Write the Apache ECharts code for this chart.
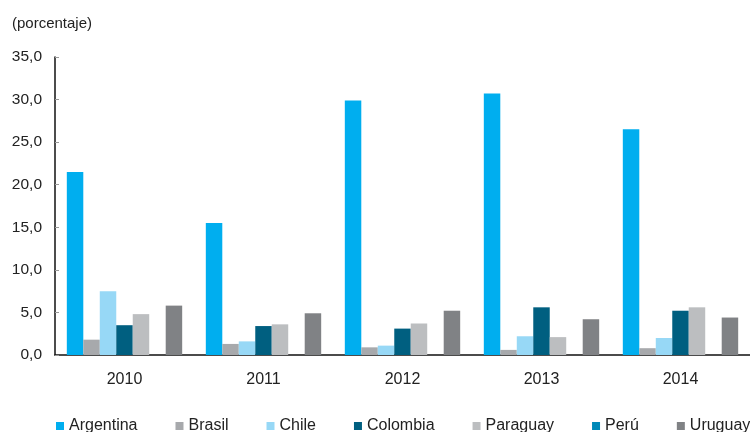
<!DOCTYPE html>
<html>
<head>
<meta charset="utf-8">
<script src="https://cdn.jsdelivr.net/npm/echarts@6/dist/echarts.min.js"></script>
<style>html,body{margin:0;padding:0;background:#fff}#c{width:750px;height:432px}</style>
</head>
<body>
<div id="c"></div>
<script>
const categories = ['2010', '2011', '2012', '2013', '2014'];
const seriesNames = ['Argentina', 'Brasil', 'Chile', 'Colombia', 'Paraguay', 'Perú', 'Uruguay'];
const argentina = [21.5, 15.5, 29.9, 30.7, 26.5];
const brasil = [1.8, 1.3, 0.9, 0.6, 0.8];
const chile = [7.5, 1.6, 1.1, 2.2, 2.0];
const colombia = [3.5, 3.4, 3.1, 5.6, 5.2];
const paraguay = [4.8, 3.6, 3.7, 2.1, 5.6];
const peru = [null, null, null, null, null];
const uruguay = [5.8, 4.9, 5.2, 4.2, 4.4];
const yTicks = { min: 0, max: 35, interval: 5 };
const colors = ['#00AEEF', '#A7A9AC', '#97D8F6', '#005F80', '#BCBEC0', '#0089B8', '#808285'];

const dataList = [argentina, brasil, chile, colombia, paraguay, peru, uruguay];
const font = 'Liberation Sans, Arial, Helvetica, sans-serif';
const chart = echarts.init(document.getElementById('c'));
chart.setOption({
  animation: false,
  color: colors,
  title: {
    text: '(porcentaje)', left: 7, top: 11,
    textStyle: { fontSize: 15, fontWeight: 'normal', color: '#222', fontFamily: font }
  },
  legend: {
    data: seriesNames, left: 56, top: 418, width: 1200, padding: 0,
    itemWidth: 8, itemHeight: 8, itemGap: 38,
    icon: 'rect',
    textStyle: { fontSize: 16, color: '#222', fontFamily: font }
  },
  grid: { left: 55, right: 0, top: 57, bottom: 77, containLabel: false },
  xAxis: {
    type: 'category', data: categories,
    axisLine: { lineStyle: { color: '#111', width: 1.5 } },
    axisTick: { inside: true, length: 4, lineStyle: { color: '#777' } },
    axisLabel: { fontSize: 16, color: '#222', margin: 17, fontFamily: font }
  },
  yAxis: {
    type: 'value', min: yTicks.min, max: yTicks.max, interval: yTicks.interval,
    axisLine: { show: true, lineStyle: { color: '#111', width: 1.5 } },
    axisTick: { show: true, inside: true, length: 4, lineStyle: { color: '#999' } },
    splitLine: { show: false },
    axisLabel: { fontSize: 15.5, color: '#222', margin: 13, fontFamily: font,
      formatter: v => v.toFixed(1).replace('.', ',') }
  },
  series: seriesNames.map((n, i) => ({
    name: n, type: 'bar', data: dataList[i],
    barGap: '0%', barCategoryGap: '17%'
  }))
});
</script>
</body>
</html>
